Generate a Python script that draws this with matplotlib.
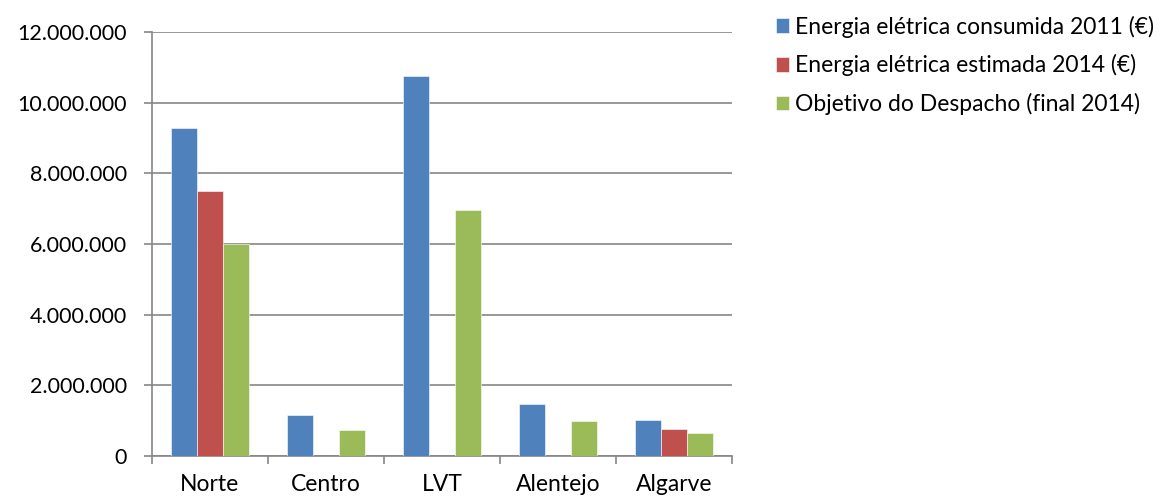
import numpy as np
import matplotlib
matplotlib.use('Agg')
import matplotlib.pyplot as plt
from matplotlib.ticker import FuncFormatter

regions = ['Norte', 'Centro', 'LVT', 'Alentejo', 'Algarve']
consumida_2011 = [9280000, 1160000, 10760000, 1480000, 1010000]
estimada_2014 = [7490000, 0, 0, 0, 770000]
objetivo = [6000000, 740000, 6950000, 990000, 660000]
series_names = ['Energia elétrica consumida 2011 (€)',
                'Energia elétrica estimada 2014 (€)',
                'Objetivo do Despacho (final 2014)']
COLORS = ['#4F81BD', '#C0504D', '#9BBB59']

plt.rcParams['font.family'] = ['Lato', 'DejaVu Sans']

fig = plt.figure(figsize=(11.68, 5.0), dpi=100)
ax = fig.add_axes([152 / 1168, 44 / 500, 580 / 1168, 424 / 500])

x = np.arange(len(regions))
w = 1 / 4.5
for i, vals in enumerate([consumida_2011, estimada_2014, objetivo]):
    ax.bar(x + (i - 1) * w, vals, width=w, color=COLORS[i], label=series_names[i],
           edgecolor='white', linewidth=0.4, zorder=3)

ax.set_xlim(-0.5, len(regions) - 0.5)
ax.set_ylim(0, 12000000)
ax.set_yticks(np.arange(0, 12000001, 2000000))
ax.yaxis.set_major_formatter(FuncFormatter(lambda v, p: f'{int(v):,}'.replace(',', '.')))
ax.grid(axis='y', color='#868686', linewidth=1.2, zorder=0)
ax.set_xticks(x)
ax.set_xticklabels(regions)
ax.set_xticks(np.arange(-0.5, len(regions)), minor=True)
ax.tick_params(axis='x', which='major', length=0, pad=13, labelsize=16.5)
ax.tick_params(axis='x', which='minor', length=6, color='#868686', width=1.2)
ax.tick_params(axis='y', length=6, color='#868686', width=1.2, labelsize=15.5, pad=12)
for s in ['top', 'right']:
    ax.spines[s].set_visible(False)
for s in ['left', 'bottom']:
    ax.spines[s].set_color('#868686')
    ax.spines[s].set_linewidth(1.2)

fig.legend(loc='upper left', bbox_to_anchor=(755 / 1168, 1.01), frameon=False,
           fontsize=16.5, handlelength=0.6, handleheight=0.6, handletextpad=0.25,
           labelspacing=0.72)

fig.savefig('out.png', dpi=100)
